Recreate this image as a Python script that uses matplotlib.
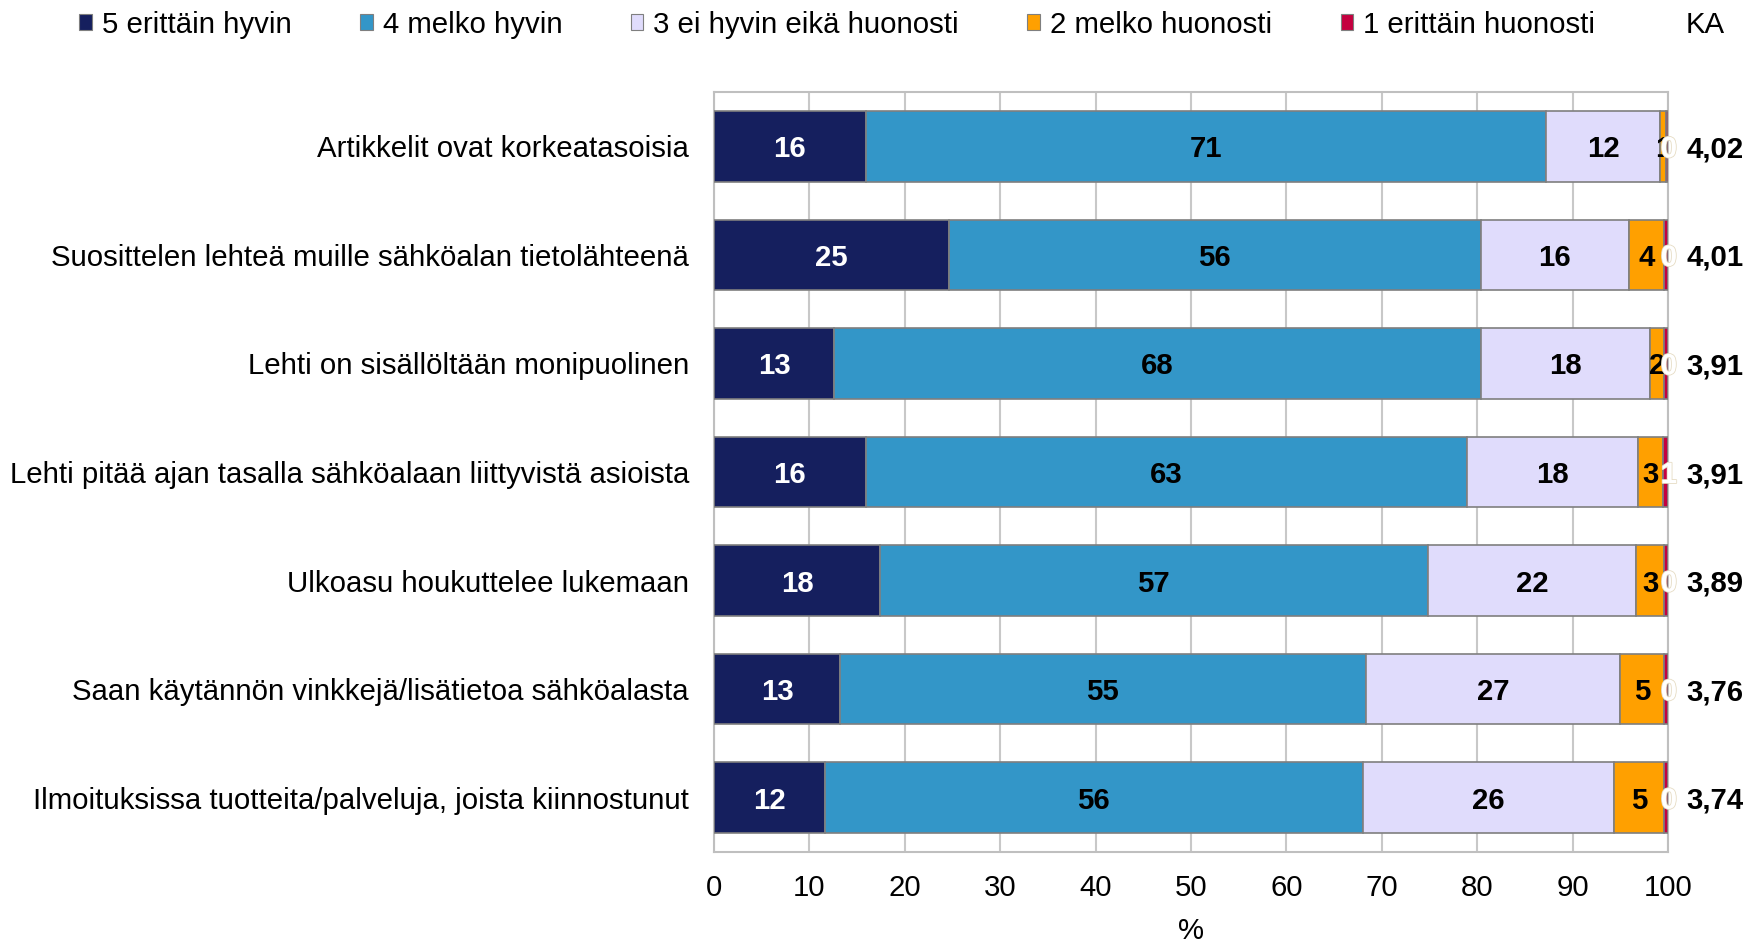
import numpy as np
import matplotlib
matplotlib.use("Agg")
import matplotlib.pyplot as plt
import matplotlib.patheffects as pe
from matplotlib.patches import Patch

plt.rcParams['font.family'] = ['Liberation Sans', 'DejaVu Sans']

# categories, top to bottom
categories = [
    "Artikkelit ovat korkeatasoisia",
    "Suosittelen lehteä muille sähköalan tietolähteenä",
    "Lehti on sisällöltään monipuolinen",
    "Lehti pitää ajan tasalla sähköalaan liittyvistä asioista",
    "Ulkoasu houkuttelee lukemaan",
    "Saan käytännön vinkkejä/lisätietoa sähköalasta",
    "Ilmoituksissa tuotteita/palveluja, joista kiinnostunut",
]
series_names = ["5 erittäin hyvin", "4 melko hyvin", "3 ei hyvin eikä huonosti",
                "2 melko huonosti", "1 erittäin huonosti"]

# shares in percent
s5 = [15.9, 24.6, 12.6, 15.9, 17.4, 13.2, 11.6]
s4 = [71.3, 55.8, 67.8, 63.0, 57.4, 55.1, 56.4]
s3 = [12.0, 15.5, 17.7, 18.0, 21.9, 26.7, 26.3]
s2 = [0.6, 3.7, 1.5, 2.6, 2.9, 4.6, 5.3]
s1 = [0.2, 0.4, 0.4, 0.5, 0.4, 0.4, 0.4]
# labels shown in the segments
lab5 = [16, 25, 13, 16, 18, 13, 12]
lab4 = [71, 56, 68, 63, 57, 55, 56]
lab3 = [12, 16, 18, 18, 22, 27, 26]
lab2 = [1, 4, 2, 3, 3, 5, 5]
lab1 = [0, 0, 0, 1, 0, 0, 0]
ka = ["4,02", "4,01", "3,91", "3,91", "3,89", "3,76", "3,74"]

colors = ["#151f5e", "#3396c8", "#e0dcfc", "#ffa000", "#c4003f"]
text_colors = ["white", "black", "black", "black", "white"]

fig = plt.figure(figsize=(17.46, 9.46), dpi=100)
ax = fig.add_axes([0.409, 0.0994, 0.5463, 0.8033])

y = np.arange(len(categories))
left = np.zeros(len(categories))
fs = 21.2
for vals, labs, col, tcol in zip([s5, s4, s3, s2, s1], [lab5, lab4, lab3, lab2, lab1],
                                 colors, text_colors):
    vals = np.array(vals)
    ax.barh(y, vals, left=left, height=0.65, color=col, edgecolor="#7f7f7f",
            linewidth=1.2, zorder=3)
    for yi, l, v, t in zip(y, left, vals, labs):
        xpos = l + v / 2
        if col == colors[-1]:
            xpos = l + v + 0.1
        txt = ax.text(xpos, yi, str(t), ha="center", va="center_baseline", fontsize=fs,
                      fontweight="bold", color=tcol, zorder=5)
        if col == colors[-1]:
            txt.set_path_effects([pe.withStroke(linewidth=1.2, foreground="#e6dcc4")])
    left = left + vals

for yi, k in zip(y, ka):
    ax.annotate(k, xy=(100, yi), xytext=(13, 0), textcoords="offset points",
                ha="left", va="center_baseline", fontsize=fs, fontweight="bold")

ax.set_xlim(0, 100)
ax.set_ylim(len(categories) - 0.5, -0.5)
ax.set_xticks(np.arange(0, 101, 10))
ax.set_yticks(y)
ax.set_yticklabels(categories, fontsize=fs)
ax.tick_params(axis="y", length=0, pad=18)
ax.tick_params(axis="x", length=0, pad=16, labelsize=fs)
ax.set_xlabel("%", fontsize=fs, labelpad=11)
ax.grid(axis="x", color="#c8c8c8", linewidth=1.5, zorder=0)
ax.set_axisbelow(True)
for sp in ax.spines.values():
    sp.set_color("#bfbfbf")
    sp.set_linewidth(1.5)

handles = [Patch(facecolor=c, edgecolor="#7f7f7f", linewidth=0.8) for c in colors]
fig.legend(handles, series_names, loc="center left", bbox_to_anchor=(0.0455, 0.974),
           ncol=5, frameon=False, fontsize=fs, handlelength=0.42, handleheight=0.42,
           handletextpad=0.35, columnspacing=2.32, borderpad=0, borderaxespad=0)
fig.text(1686 / 1746, 0.974, "KA", ha="left", va="center", fontsize=fs)

fig.savefig("out.png", dpi=100)
